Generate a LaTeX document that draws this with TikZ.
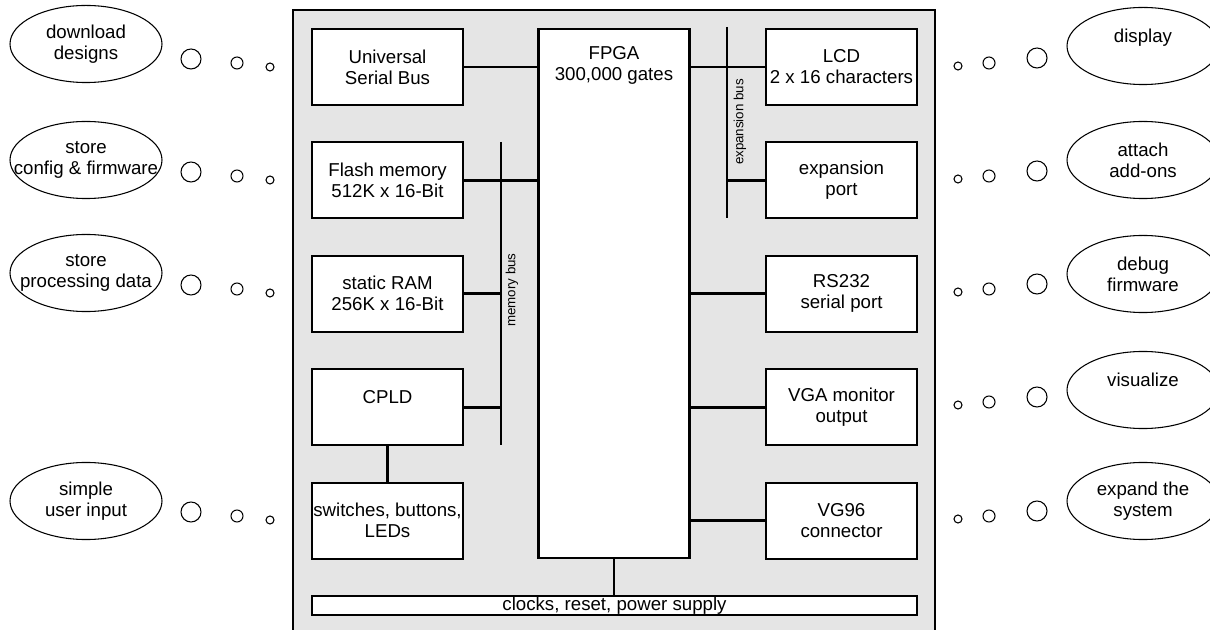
\documentclass[tikz,border=0pt]{standalone}
\usepackage{fontspec}
\setmainfont{Liberation Sans}
\tikzset{
blk/.style={draw,line width=1.6pt,fill=white,inner sep=0pt,minimum width=113.25pt,minimum height=57pt,align=center},
goal/.style={align=center,inner sep=0pt},
link/.style={line width=2.2pt},
buslbl/.style={font=\fontsize{10}{12}\selectfont,rotate=90,inner sep=0pt},
bub/.style={line width=0.8pt}
}
\begin{document}
\begin{tikzpicture}[x=0.75pt,y=-0.75pt,font=\fontsize{14}{15.75}\selectfont]
\clip(0,0)rectangle(1210,630);
\pgfmathsetmacro{\krow}{113.4}
\pgfmathsetmacro{\kleft}{387.5}
\pgfmathsetmacro{\kright}{841.5}
\draw[line width=1.5pt,fill=gray!20](293,10)rectangle(935,650);
\node[blk](usb)at(\kleft,67){Universal\\Serial Bus};
\node[blk](flash)at(\kleft,67+\krow){Flash memory\\512K x 16-Bit};
\node[blk](ram)at(\kleft,67+2*\krow){static RAM\\256K x 16-Bit};
\node[blk](cpld)at(\kleft,67+3*\krow){CPLD\\{}};
\node[blk](sw)at(\kleft,67+4*\krow){switches, buttons,\\LEDs};
\node[blk](lcd)at(\kright,67){LCD\\2 x 16 characters};
\node[blk](exp)at(\kright,67+\krow){expansion\\port};
\node[blk](rs)at(\kright,67+2*\krow){RS232\\serial port};
\node[blk](vga)at(\kright,67+3*\krow){VGA monitor\\output};
\node[blk](vg)at(\kright,67+4*\krow){VG96\\connector};
\node[blk,minimum height=396.75pt,label={[align=center,anchor=north,yshift=-10pt]north:FPGA\\300,000 gates}](fpga)at(614,293.5){};
\node[blk,minimum width=453.75pt,minimum height=14.25pt,line width=1.5pt](clk)at(614.5,605.5){clocks, reset, power supply};
\coordinate(mb1)at(501,142);\coordinate(mb2)at(501,445);
\coordinate(xb1)at(727,27);\coordinate(xb2)at(727,218);
\draw[link](mb1)--(mb2);
\draw[link](xb1)--(xb2);
\node[buslbl](mbl)at(512,290){memory bus};
\node[buslbl](xbl)at(740,122){expansion bus};
\draw[link](usb.east)--(usb.east-|fpga.west);
\draw[link](flash.east)--(flash.east-|fpga.west);
\foreach \kb in {ram,cpld}{\draw[link](\kb.east)--(\kb.east-|mb1);}
\draw[link](cpld)--(sw);
\draw[link](lcd.west-|fpga.east)--(lcd.west);
\draw[link](exp.west-|xb1)--(exp.west);
\foreach \kb in {rs,vga,vg}{\draw[link](\kb.west-|fpga.east)--(\kb.west);}
\draw[link](fpga.south)--(fpga.south|-clk.north);
\foreach \kn/\ky/\kt in {dl/44/{download\\designs},cf/160/{store\\config \& firmware},pd/273/{store\\processing data},ui/501/{simple\\user input}}{\node[goal](\kn)at(86,\ky){\kt};\draw[bub](\kn)ellipse[x radius=57pt,y radius=28.9pt];}
\foreach \kn/\ky/\kt in {ds/46/{display\\{}},ao/160/{attach\\add-ons},db/274/{debug\\firmware},vi/390/{visualize\\{}},ex/501/{expand the\\system}}{\node[goal](\kn)at(1143,\ky){\kt};\draw[bub](\kn)ellipse[x radius=57pt,y radius=28.9pt];}
\foreach \ky in {67,180,293,520}{\draw[bub](191,\ky-8)circle[radius=7.5pt];\draw[bub](237,\ky-4)circle[radius=4.5pt];\draw[bub](270,\ky)circle[radius=3pt];}
\foreach \ky in {67,180,293,406,520}{\draw[bub](958,\ky-1)circle[radius=3pt];\draw[bub](989,\ky-4)circle[radius=4.5pt];\draw[bub](1037,\ky-9)circle[radius=7.5pt];}
\end{tikzpicture}
\end{document}
